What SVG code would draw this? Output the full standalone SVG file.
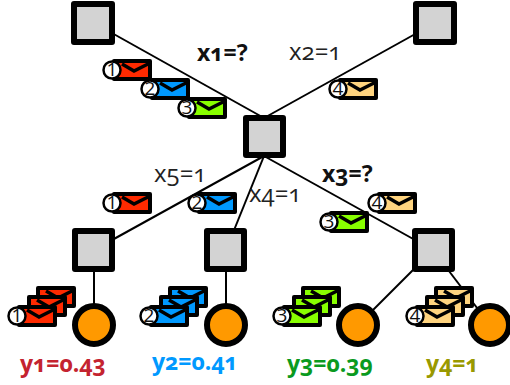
<svg xmlns="http://www.w3.org/2000/svg" xmlns:xlink="http://www.w3.org/1999/xlink" width="510" height="385" viewBox="0 0 510 385">
<style>
text{font-family:"Open Sans","Lato","Liberation Sans",sans-serif;font-variant-numeric:oldstyle-nums;font-feature-settings:"onum";}
.lbl{font-size:24px;fill:#222}
.b{font-size:23px;font-weight:700;fill:#111}
.y{font-size:23px;font-weight:700}
.n{font-size:19px;fill:#111;text-anchor:middle;font-variant-numeric:lining-nums;font-feature-settings:"lnum"}
.sq{fill:#d3d3d3;stroke:#000;stroke-width:6;stroke-linejoin:round}
.ci{fill:#ff9900;stroke:#000;stroke-width:6}
.c line{stroke:#000;stroke-width:2}
.env{stroke:#000;stroke-width:4;stroke-linejoin:round}
.fl{fill:none;stroke:#000;stroke-width:3.500}
.dot{fill:#fff;stroke:#000;stroke-width:2.500}
</style>
<defs>
<g id="e"><rect class="env" x="2" y="-9" width="36" height="18"/><path class="fl" d="M10-6 L22 1 L38-7"/></g>
</defs>
<g id="connectors" class="c">
<line x1="94" y1="23" x2="264" y2="118"/>
<line x1="435" y1="23" x2="264" y2="118"/>
<line x1="264" y1="156" x2="94" y2="250"/>
<line x1="264" y1="156" x2="226" y2="250"/>
<line x1="264" y1="156" x2="433" y2="250"/>
<line x1="94" y1="250" x2="94" y2="325"/>
<line x1="226" y1="250" x2="226" y2="325"/>
<line x1="433" y1="250" x2="358" y2="325"/>
<line x1="433" y1="250" x2="490" y2="325"/>
</g>
<g id="n1"><rect class="sq" x="74" y="4" width="38" height="38"/></g>
<g id="n2"><rect class="sq" x="416" y="4" width="38" height="38"/></g>
<g id="n3"><rect class="sq" x="246" y="118" width="37" height="37"/></g>
<g id="n4"><rect class="sq" x="75" y="231" width="37" height="38"/></g>
<g id="n5"><rect class="sq" x="207" y="231" width="37" height="38"/></g>
<g id="n6"><rect class="sq" x="415" y="231" width="37" height="38"/></g>
<g id="c1"><circle class="ci" cx="94" cy="325" r="19"/></g>
<g id="c2"><circle class="ci" cx="226" cy="325" r="19"/></g>
<g id="c3"><circle class="ci" cx="358" cy="325" r="19"/></g>
<g id="c4"><circle class="ci" cx="490" cy="325" r="19"/></g>
<g id="m1"><use href="#e" x="112" y="70" fill="#ff2a00"/><circle class="dot" cx="112" cy="70" r="8.500"/><text class="n" x="112" y="76">1</text></g>
<g id="m2"><use href="#e" x="150" y="89" fill="#0099ff"/><circle class="dot" cx="150" cy="89" r="8.500"/><text class="n" x="150" y="95">2</text></g>
<g id="m3"><use href="#e" x="187" y="108" fill="#88ff00"/><circle class="dot" cx="187" cy="108" r="8.500"/><text class="n" x="187" y="114">3</text></g>
<g id="m4"><use href="#e" x="338" y="89" fill="#ffd47f"/><circle class="dot" cx="338" cy="89" r="8.500"/><text class="n" x="338" y="95">4</text></g>
<g id="m5"><use href="#e" x="112" y="203" fill="#ff2a00"/><circle class="dot" cx="112" cy="203" r="8.500"/><text class="n" x="112" y="209">1</text></g>
<g id="m6"><use href="#e" x="197" y="203" fill="#0099ff"/><circle class="dot" cx="197" cy="203" r="8.500"/><text class="n" x="197" y="209">2</text></g>
<g id="m7"><use href="#e" x="377" y="203" fill="#ffd47f"/><circle class="dot" cx="377" cy="203" r="8.500"/><text class="n" x="377" y="209">4</text></g>
<g id="m8"><use href="#e" x="329" y="222" fill="#88ff00"/><circle class="dot" cx="329" cy="222" r="8.500"/><text class="n" x="329" y="228">3</text></g>
<g id="s1"><use href="#e" x="36" y="297" fill="#ff2a00"/><use href="#e" x="27" y="306" fill="#ff2a00"/><use href="#e" x="17" y="316" fill="#ff2a00"/><circle class="dot" cx="17" cy="316" r="8.500"/><text class="n" x="17" y="322">1</text></g>
<g id="s2"><use href="#e" x="168" y="297" fill="#0099ff"/><use href="#e" x="159" y="306" fill="#0099ff"/><use href="#e" x="149" y="316" fill="#0099ff"/><circle class="dot" cx="149" cy="316" r="8.500"/><text class="n" x="149" y="322">2</text></g>
<g id="s3"><use href="#e" x="301" y="297" fill="#88ff00"/><use href="#e" x="292" y="306" fill="#88ff00"/><use href="#e" x="282" y="316" fill="#88ff00"/><circle class="dot" cx="282" cy="316" r="8.500"/><text class="n" x="282" y="322">3</text></g>
<g id="s4"><use href="#e" x="434" y="297" fill="#ffd47f"/><use href="#e" x="425" y="306" fill="#ffd47f"/><use href="#e" x="415" y="316" fill="#ffd47f"/><circle class="dot" cx="415" cy="316" r="8.500"/><text class="n" x="415" y="322">4</text></g>
<g id="labels">
<text class="lbl b" x="197" y="61">x1=?</text>
<text class="lbl" x="289" y="60">x2=1</text>
<text class="lbl" x="154" y="182">x5=1</text>
<text class="lbl" x="249" y="202">x4=1</text>
<text class="lbl b" x="322" y="182">x3=?</text>
<text class="y" x="20" y="372" fill="#c4232f">y1=0.43</text>
<text class="y" x="152" y="370" fill="#0099ff">y2=0.41</text>
<text class="y" x="287" y="372" fill="#0a9a1e">y3=0.39</text>
<text class="y" x="426" y="372" fill="#999900">y4=1</text>
</g>
</svg>
